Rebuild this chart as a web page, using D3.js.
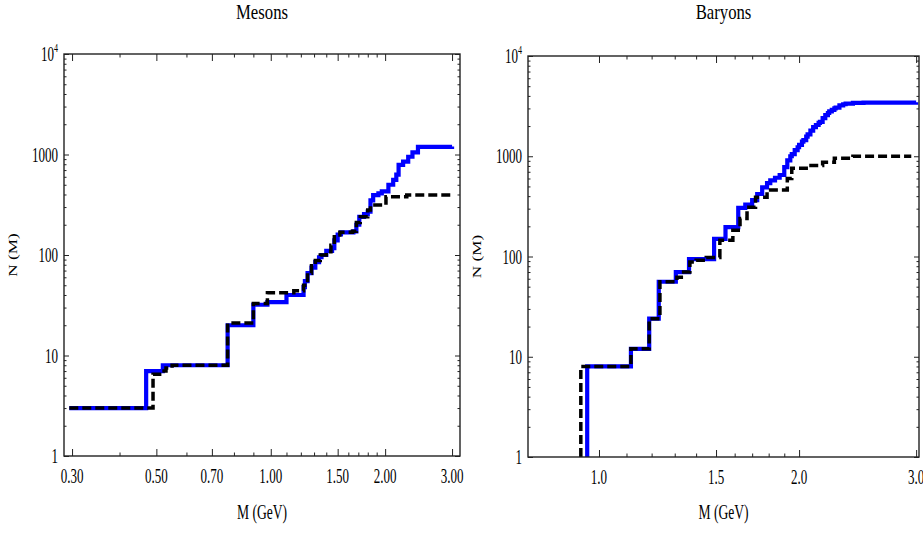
<!DOCTYPE html>
<html>
<head>
<meta charset="utf-8">
<script src="https://cdn.jsdelivr.net/npm/d3@7"></script>
<style>
body { margin: 0; background: #fff; }
svg { display: block; }
</style>
</head>
<body>
<svg id="chart" width="923" height="533"></svg>
<script>
// Cumulative number of states N(M) as [M (GeV), N]
var mesonsBlue = [
	[0.295, 3], [0.47, 7], [0.52, 8], [0.77, 20], [0.90, 32], [0.98, 34],
	[1.10, 40], [1.22, 48], [1.23, 55], [1.25, 66], [1.28, 75], [1.31, 85],
	[1.34, 95], [1.36, 100], [1.40, 110], [1.45, 117], [1.47, 140], [1.50, 160],
	[1.53, 168], [1.65, 172], [1.68, 200], [1.71, 240], [1.76, 255], [1.80, 270],
	[1.83, 350], [1.86, 395], [1.92, 410], [1.96, 430], [2.04, 500], [2.10, 560],
	[2.14, 630], [2.17, 790], [2.23, 850], [2.30, 950], [2.36, 1050], [2.44, 1190],
	[3.00, 1200]
];
var mesonsBlack = [
	[0.295, 3], [0.49, 6.5], [0.51, 7], [0.53, 7.5], [0.55, 8], [0.77, 21],
	[0.90, 33], [0.98, 42], [1.15, 44], [1.22, 50], [1.25, 66], [1.28, 78],
	[1.31, 88], [1.35, 100], [1.40, 108], [1.44, 125], [1.47, 158], [1.52, 168],
	[1.64, 172], [1.68, 210], [1.72, 240], [1.80, 280], [1.83, 315], [2.01, 380],
	[2.28, 395], [2.97, 395]
];
var baryonsBlue = [
	[0.96, 1], [0.96, 8], [1.117, 12], [1.19, 24], [1.23, 56], [1.305, 70],
	[1.366, 94], [1.49, 150], [1.55, 196], [1.62, 305], [1.66, 330], [1.70, 365],
	[1.73, 420], [1.76, 490], [1.79, 540], [1.81, 575], [1.84, 610], [1.87, 650],
	[1.90, 780], [1.92, 910], [1.94, 1000], [1.95, 1050], [1.97, 1150], [1.99, 1230],
	[2.00, 1300], [2.02, 1400], [2.03, 1450], [2.05, 1570], [2.06, 1650], [2.08, 1800],
	[2.10, 1950], [2.12, 2050], [2.14, 2150], [2.15, 2200], [2.17, 2400], [2.19, 2570],
	[2.21, 2700], [2.22, 2800], [2.24, 2900], [2.26, 3000], [2.27, 3050], [2.30, 3220],
	[2.33, 3300], [2.35, 3350], [2.41, 3400], [2.50, 3430], [3.00, 3450]
];
var baryonsBlack = [
	[0.939, 1], [0.939, 8], [1.117, 12], [1.19, 24], [1.235, 56], [1.31, 62],
	[1.33, 70], [1.37, 88], [1.40, 92], [1.45, 98], [1.52, 145], [1.59, 183],
	[1.63, 240], [1.67, 310], [1.72, 390], [1.79, 460], [1.92, 600], [1.95, 760],
	[2.05, 810], [2.17, 870], [2.26, 955], [2.41, 1000], [2.95, 1000]
];

// Ticks
var mesonsMajorX = [0.3, 0.5, 0.7, 1, 1.5, 2, 3];
var mesonsMajorXLabels = ["0.30", "0.50", "0.70", "1.00", "1.50", "2.00", "3.00"];
var mesonsMinorX = [0.4, 0.6, 0.8, 0.9, 1.1, 1.2, 1.3, 1.4, 1.6, 1.7, 1.8, 1.9];
var baryonsMajorX = [1, 1.5, 2, 3];
var baryonsMajorXLabels = ["1.0", "1.5", "2.0", "3.0"];
var baryonsMinorX = [1.1, 1.2, 1.3, 1.4, 1.6, 1.7, 1.8, 1.9];
var majorY = [1, 10, 100, 1000, 10000];
var majorYLabels = ["1", "10", "100", "1000", "10^4"];
var minorY = [];
[1, 10, 100, 1000].forEach(function(d) {
	for (var k = 2; k <= 9; k++) minorY.push(d * k);
});

var svg = d3.select("#chart");
var FONT = "'Liberation Serif', 'Times New Roman', serif";

// texto angosto, la figura original esta comprimida en horizontal
function narrowText(parent, x, y, str, size, sx, anchor) {
	var g = parent.append("g")
		.attr("transform", "translate(" + x + "," + y + ") scale(" + sx + ",1)");
	var t = g.append("text")
		.attr("text-anchor", anchor || "middle")
		.attr("font-family", FONT)
		.attr("font-size", size)
		.attr("fill", "#000");
	var parts = str.split("^");
	t.append("tspan").text(parts[0]);
	if (parts[1]) {
		t.append("tspan").attr("dy", -9).attr("font-size", size * 0.62).text(parts[1]);
	}
	return g;
}

function panel(opts) {
	var x = d3.scaleLog().domain(opts.xDomain).range([opts.left, opts.right]);
	var y = d3.scaleLog().domain([1, 10000]).range([opts.bottom, opts.top]);
	var g = svg.append("g");

	var clipId = "clip-" + opts.name;
	svg.append("clipPath").attr("id", clipId).append("rect")
		.attr("x", opts.left).attr("y", opts.top)
		.attr("width", opts.right - opts.left).attr("height", opts.bottom - opts.top);

	// ticks on all four sides, pointing inward
	function ticks(axisFn, scale, values, size, transform) {
		g.append("g")
			.attr("transform", transform)
			.call(axisFn(scale).tickValues(values).tickSize(-size).tickFormat(""))
			.call(function(s) {
				s.select(".domain").remove();
				s.selectAll("line").attr("stroke", "#222").attr("stroke-width", 1);
			});
	}
	ticks(d3.axisBottom, x, opts.majorX, 7, "translate(0," + opts.bottom + ")");
	ticks(d3.axisBottom, x, opts.minorX, 3.5, "translate(0," + opts.bottom + ")");
	ticks(d3.axisTop, x, opts.majorX, 7, "translate(0," + opts.top + ")");
	ticks(d3.axisTop, x, opts.minorX, 3.5, "translate(0," + opts.top + ")");
	ticks(d3.axisLeft, y, majorY, 5, "translate(" + opts.left + ",0)");
	ticks(d3.axisLeft, y, minorY, 2.5, "translate(" + opts.left + ",0)");
	ticks(d3.axisRight, y, majorY, 5, "translate(" + opts.right + ",0)");
	ticks(d3.axisRight, y, minorY, 2.5, "translate(" + opts.right + ",0)");

	var line = d3.line()
		.x(function(d) { return x(d[0]); })
		.y(function(d) { return y(d[1]); })
		.curve(d3.curveStepAfter);

	g.append("path").datum(opts.blue)
		.attr("clip-path", "url(#" + clipId + ")")
		.attr("d", line).attr("fill", "none")
		.attr("stroke", "#0000ff").attr("stroke-width", 4.2);
	g.append("path").datum(opts.black)
		.attr("clip-path", "url(#" + clipId + ")")
		.attr("d", line).attr("fill", "none")
		.attr("stroke", "#000").attr("stroke-width", 3.5)
		.attr("stroke-dasharray", "9,4");

	// Frame
	g.append("rect")
		.attr("x", opts.left).attr("y", opts.top)
		.attr("width", opts.right - opts.left).attr("height", opts.bottom - opts.top)
		.attr("fill", "none").attr("stroke", "#222").attr("stroke-width", 1.4);

	// Tick labels
	opts.majorX.forEach(function(v, i) {
		narrowText(g, x(v), opts.bottom + 27, opts.majorXLabels[i], 21, 0.62);
	});
	majorY.forEach(function(v, i) {
		narrowText(g, opts.left - 6, y(v) + 7, majorYLabels[i], 21, 0.62, "end");
	});

	// Titles
	var cx = (opts.left + opts.right) / 2;
	narrowText(g, cx, 19, opts.title, 22, 0.76);
	narrowText(g, cx, 519, "M (GeV)", 20, 0.68);
	g.append("g")
		.attr("transform", "translate(" + (opts.left - 47) + "," + ((opts.top + opts.bottom) / 2) + ") rotate(-90) scale(1.5,1)")
		.append("text")
		.attr("text-anchor", "middle")
		.attr("font-family", FONT)
		.attr("font-size", 11.5)
		.attr("fill", "#000")
		.text("N (M)");
}

panel({
	name: "mesons", title: "Mesons",
	left: 64, right: 460, top: 54, bottom: 456,
	xDomain: [0.2857, 3.148],
	majorX: mesonsMajorX, majorXLabels: mesonsMajorXLabels, minorX: mesonsMinorX,
	blue: mesonsBlue, black: mesonsBlack
});
panel({
	name: "baryons", title: "Baryons",
	left: 528, right: 919, top: 56, bottom: 457,
	xDomain: [0.782, 3.03],
	majorX: baryonsMajorX, majorXLabels: baryonsMajorXLabels, minorX: baryonsMinorX,
	blue: baryonsBlue, black: baryonsBlack
});
</script>
</body>
</html>
